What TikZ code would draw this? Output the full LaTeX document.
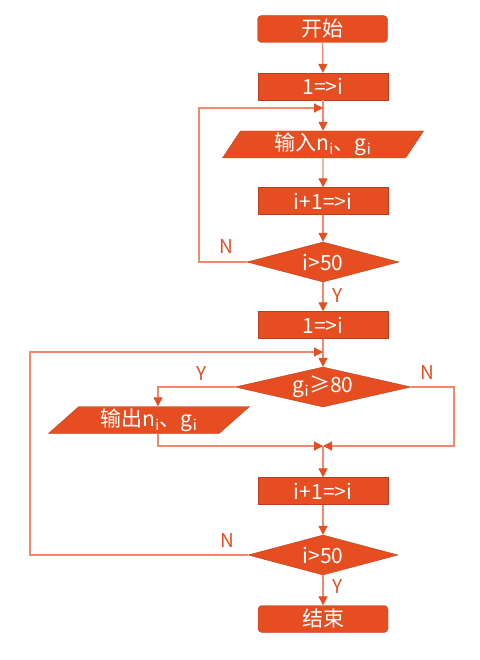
\documentclass[tikz,border=0pt]{standalone}
\usepackage{fontspec}
\newfontfamily\cjk{Noto Sans CJK SC}
\usetikzlibrary{arrows.meta, positioning, shapes.geometric}

\definecolor{flowfill}{HTML}{E64E22}
\definecolor{flowdraw}{HTML}{B8401C}
\definecolor{flowline}{HTML}{F08A6C}

\begin{document}
\begin{tikzpicture}[
    x=1pt, y=-1pt,
    font=\cjk\fontsize{21}{24}\selectfont,
    base/.style={fill=flowfill, draw=flowdraw, text=white, inner sep=0pt,
                 minimum width=130pt, minimum height=27pt},
    term/.style={base, rounded corners=4pt},
    proc/.style={base},
    io/.style={base, trapezium, trapezium stretches body, minimum width=201pt},
    test/.style={base, diamond, shape aspect=4, minimum height=40pt},
    flow/.style={draw=flowline, line width=1.2pt,
                 -{Triangle[length=9pt, width=9pt, color=flowfill]}},
    tag/.style={text=flowfill, font=\cjk\fontsize{19}{22}\selectfont},
]
    \useasboundingbox (0,0) rectangle (479,660);

    %==================== first loop: read ====================
    \node[term] (start) at (322.5,29) {开始};
    \node[proc] (initA) at (323,86.5) {1=>i};
    \node[io, trapezium left angle=52, trapezium right angle=128]
        (input) at (323,144.5) {输入n\textsubscript{i}、g\textsubscript{i}};
    \node[proc] (incA) at (323,201) {i+1=>i};
    \node[test, minimum width=152pt] (testA) at (323,262) {i>50};

    \draw[flow] (start) -- (initA);
    \draw[flow] (initA) -- (input);
    \draw[flow] (input) -- (incA);
    \draw[flow] (incA) -- (testA);

    % back to input while i<=50
    \coordinate (backA) at (323,108);
    \draw[flow] (testA.west) -| ([xshift=-124pt]backA) -- (backA);
    \node[tag] (nA) at ([xshift=-20pt, yshift=15pt]testA.west) {N};

    %==================== second loop: select ====================
    \node[proc] (initB) at (323,325) {1=>i};
    \draw[flow] (testA) -- (initB);
    \node[tag] (yA) at ([xshift=15pt, yshift=-13pt]testA.south) {Y};

    \node[test, minimum width=176pt] (testB) at (323,387) {g\textsubscript{i}≥80};
    \draw[flow] (initB) -- (testB);

    \node[io, trapezium left angle=37, trapezium right angle=143] (output) at (149,420)
        {输出n\textsubscript{i}、g\textsubscript{i}};
    \draw[flow] (testB.west) -| ([xshift=9pt]output.north);
    \node[tag] (yB) at ([xshift=-33pt, yshift=13pt]testB.west) {Y};
    \node[tag] (nB) at ([xshift=16pt, yshift=14pt]testB.east) {N};

    % both branches join here
    \coordinate (merge) at (323,446);
    \draw[flow] ([xshift=9pt]output.south) |- (merge);
    \draw[flow] (testB.east) -| ([xshift=131pt]merge) -- (merge);

    \node[proc] (incB) at (323,491) {i+1=>i};
    \draw[flow] (merge) -- (incB);

    \node[test, minimum width=150pt] (testC) at (323,555) {i>50};
    \draw[flow] (incB) -- (testC);

    \coordinate (backB) at (323,352);
    \draw[flow] (testC.west) -| ([xshift=-293pt]backB) -- (backB);
    \node[tag] (nC) at ([xshift=-20pt, yshift=14pt]testC.west) {N};

    %==================== end ====================
    \node[term] (stop) at (323,619) {结束};
    \draw[flow] (testC) -- (stop);
    \node[tag] (yC) at ([xshift=15pt, yshift=-11pt]testC.south) {Y};

\end{tikzpicture}
\end{document}
